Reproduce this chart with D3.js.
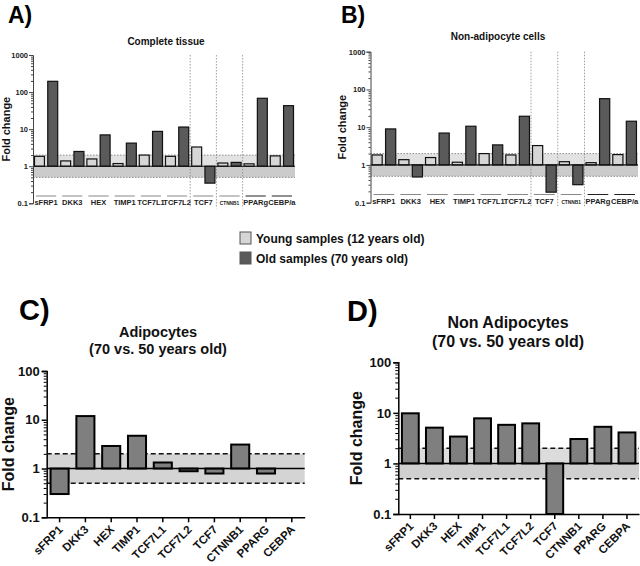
<!DOCTYPE html>
<html><head><meta charset="utf-8">
<script src="https://cdn.jsdelivr.net/npm/d3@7"></script>
<style>
body{margin:0;background:#fff;}
text{font-family:"Liberation Sans",Arial,sans-serif;font-weight:bold;}
</style></head>
<body><svg id="c" width="640" height="566"></svg>
<script>
const genesAB = ["sFRP1","DKK3","HEX","TIMP1","TCF7L1","TCF7L2","TCF7","CTNNB1","PPARg","CEBP/a"];
const youngA = [1.85,1.39,1.57,1.18,2.0,1.85,3.3,1.22,1.16,1.9];
const oldA   = [195,2.5,7.0,4.2,8.7,11.4,0.35,1.27,68,43];
const youngB = [1.84,1.38,1.57,1.18,2.0,1.84,3.26,1.22,1.15,1.88];
const oldB   = [9.0,0.48,7.0,10.6,3.4,19.5,0.19,0.30,57,14.4];
const genesCD = ["sFRP1","DKK3","HEX","TIMP1","TCF7L1","TCF7L2","TCF7","CTNNB1","PPARG","CEBPA"];
const adipoC    = [0.30,11.9,2.9,4.7,1.33,0.88,0.79,3.1,0.79,1];
const nonAdipoD = [9.8,5.1,3.4,7.8,5.8,6.2,0.1,3.04,5.3,4.1];
const yTicksAB = [0.1,1,10,100,1000];
const yTicksCD = [0.1,1,10,100];
const legendLabels = ["Young samples (12 years old)","Old samples (70 years old)"];

const svg = d3.select("#c");
const fmt = d => d >= 1 ? String(d) : "0.1";

function minorTicks(lo, hi){
  const out=[];
  for(let e=Math.log10(lo); e<Math.log10(hi); e++){
    for(let k=2;k<=9;k++) out.push(k*Math.pow(10,e));
  }
  return out;
}

// ---------- Panels A & B ----------
function panelAB(o){
  const g = svg.append("g");
  const x = d3.scaleBand().domain(genesAB).range(o.xr).paddingInner(0).paddingOuter(0);
  const y = d3.scaleLog().domain([0.1,1000]).range(o.yr);
  const sub = d3.scaleBand().domain(["y","o"]).range([x.bandwidth()*0.057, x.bandwidth()*0.943]).paddingInner(0.25);
  const [x0,x1] = o.xr;
  g.append("rect").attr("x",x0).attr("width",x1-x0).attr("y",y(2)).attr("height",y(1)-y(2)).attr("fill","#e2e2e2");
  g.append("rect").attr("x",x0).attr("width",x1-x0).attr("y",y(1)).attr("height",y(0.5)-y(1)).attr("fill","#cbcbcb");
  [2,0.5].forEach(v=>g.append("line").attr("x1",x0).attr("x2",x1).attr("y1",y(v)).attr("y2",y(v))
     .attr("stroke","#777").attr("stroke-width",0.8).attr("stroke-dasharray","1.5,1.5"));
  [6,7,8].forEach(i=>g.append("line").attr("x1",x0+i*x.step()).attr("x2",x0+i*x.step())
     .attr("y1",y(1000)).attr("y2",o.yr[0]+5).attr("stroke","#888").attr("stroke-width",0.8).attr("stroke-dasharray","1.5,1.5"));
  const rows = genesAB.map((gname,i)=>({g:gname, y:o.young[i], o:o.old[i]}));
  rows.forEach(r=>{
    [["y",r.y,"#d6d6d6"],["o",r.o,"#5a5a5a"]].forEach(([k,v,c])=>{
      g.append("rect").attr("x",x(r.g)+sub(k)).attr("width",sub.bandwidth())
       .attr("y",Math.min(y(v),y(1))).attr("height",Math.abs(y(v)-y(1)))
       .attr("fill",c).attr("stroke","#111").attr("stroke-width",1.2);
    });
  });
  g.append("line").attr("x1",x0).attr("x2",x1).attr("y1",y(1)).attr("y2",y(1)).attr("stroke","#111").attr("stroke-width",1.2);
  const ax = g.append("g").attr("transform",`translate(${x0},0)`)
    .call(d3.axisLeft(y).tickValues(yTicksAB).tickFormat(fmt).tickSize(4).tickPadding(1));
  ax.selectAll("text").attr("font-size",7.5).attr("fill","#222");
  ax.selectAll("path,line").attr("stroke","#444");
  g.append("g").attr("transform",`translate(${x0},0)`)
    .call(d3.axisLeft(y).tickValues(minorTicks(0.1,1000)).tickFormat("").tickSize(2))
    .call(s=>{s.select(".domain").remove(); s.selectAll("line").attr("stroke","#444");});
  genesAB.forEach((gname,i)=>{
    const cx = x(gname)+x.bandwidth()/2;
    g.append("line").attr("x1",x(gname)+3).attr("x2",x(gname)+x.bandwidth()-3)
      .attr("y1",o.uy).attr("y2",o.uy).attr("stroke", i>=8? "#222":"#888").attr("stroke-width",1);
    g.append("text").attr("x",cx).attr("y",o.uy+9).attr("text-anchor","middle")
      .attr("font-size", gname==="CTNNB1"?4.8:7.5).attr("fill","#222").text(gname);
  });
  g.append("text").attr("x",o.tx).attr("y",o.ty).attr("text-anchor","middle").attr("font-size",10).attr("fill","#111").text(o.title);
  g.append("text").attr("transform",`translate(${o.lx},${(o.yr[0]+o.yr[1])/2}) rotate(-90)`)
    .attr("text-anchor","middle").attr("font-size",11).attr("fill","#111").text("Fold change");
  g.append("text").attr("x",o.px).attr("y",23).attr("font-size",23).attr("fill","#000").text(o.plabel);
}

panelAB({xr:[33,295], yr:[203.3,55], young:youngA, old:oldA, uy:196, title:"Complete tissue", tx:166, ty:45, lx:10, px:8, plabel:"A)"});
panelAB({xr:[370.5,638], yr:[202.7,51.7], young:youngB, old:oldB, uy:194.5, title:"Non-adipocyte cells", tx:498, ty:40, lx:346, px:341, plabel:"B)"});

// ---------- Legend ----------
const leg = svg.append("g");
["#d6d6d6","#5a5a5a"].forEach((c,i)=>{
  leg.append("rect").attr("x",240).attr("y",232+i*20).attr("width",11).attr("height",12)
    .attr("fill",c).attr("stroke","#555").attr("stroke-width",1);
  leg.append("text").attr("x",256).attr("y",243+i*20).attr("font-size",12).attr("fill","#111").text(legendLabels[i]);
});

// ---------- Panels C & D ----------
function panelCD(o){
  const g = svg.append("g");
  const x = d3.scaleBand().domain(genesCD).range(o.xr).paddingInner(0.3).paddingOuter(0.15);
  const y = d3.scaleLog().domain([0.1,100]).range(o.yr);
  const [x0,x1] = o.xr;
  g.append("rect").attr("x",x0).attr("width",x1-x0).attr("y",y(2)).attr("height",y(1)-y(2)).attr("fill",o.c1);
  g.append("rect").attr("x",x0).attr("width",x1-x0).attr("y",y(1)).attr("height",y(0.5)-y(1)).attr("fill",o.c2);
  [2,0.5].forEach(v=>g.append("line").attr("x1",x0).attr("x2",x1).attr("y1",y(v)).attr("y2",y(v))
     .attr("stroke","#111").attr("stroke-width",1.5).attr("stroke-dasharray","5,3"));
  genesCD.forEach((gname,i)=>{
    const v=o.vals[i];
    if(v===1) return;
    g.append("rect").attr("x",x(gname)).attr("width",x.bandwidth())
      .attr("y",Math.min(y(v),y(1))).attr("height",Math.abs(y(v)-y(1)))
      .attr("fill","#7f7f7f").attr("stroke","#000").attr("stroke-width",2);
  });
  g.append("line").attr("x1",x0).attr("x2",x1).attr("y1",y(1)).attr("y2",y(1)).attr("stroke","#000").attr("stroke-width",1.5);
  const ay = g.append("g").attr("transform",`translate(${x0},0)`)
    .call(d3.axisLeft(y).tickValues(yTicksCD).tickFormat(fmt).tickSize(5).tickPadding(2));
  ay.selectAll("text").attr("font-size",13).attr("fill","#111");
  ay.selectAll("path,line").attr("stroke","#000").attr("stroke-width",1.5);
  g.append("g").attr("transform",`translate(${x0},0)`)
    .call(d3.axisLeft(y).tickValues(minorTicks(0.1,100)).tickFormat("").tickSize(3))
    .call(s=>{s.select(".domain").remove(); s.selectAll("line").attr("stroke","#000");});
  const axb = g.append("g").attr("transform",`translate(0,${o.yr[0]})`)
    .call(d3.axisBottom(x).tickSize(5).tickSizeOuter(0));
  axb.selectAll("path,line").attr("stroke","#000").attr("stroke-width",1.5);
  axb.selectAll("text").attr("font-size",11.5).attr("fill","#111").attr("text-anchor","end")
    .attr("x",0).attr("y",0).attr("dy","0.35em")
    .attr("transform","translate(1,10) rotate(-45)");
  g.append("text").attr("transform",`translate(${o.lx},${(o.yr[0]+o.yr[1])/2}) rotate(-90)`)
    .attr("text-anchor","middle").attr("font-size",16).attr("fill","#111").text("Fold change");
  o.title.forEach((t,i)=>g.append("text").attr("x",o.tx).attr("y",o.ty+i*o.ts).attr("text-anchor","middle")
    .attr("font-size",o.tf).attr("fill","#111").text(t));
  g.append("text").attr("x",o.px).attr("y",o.py).attr("font-size",29).attr("fill","#000").text(o.plabel);
}

panelCD({xr:[46.7,304.7], yr:[517.3,371], vals:adipoC, c1:"#d4d4d4", c2:"#d4d4d4",
  title:["Adipocytes","(70 vs. 50 years old)"], tx:158, ty:337, ts:16.5, tf:14.5, lx:14, px:19, py:320, plabel:"C)"});
panelCD({xr:[398.3,639], yr:[514,362.3], vals:nonAdipoD, c1:"#dcdcdc", c2:"#d0d0d0",
  title:["Non Adipocytes","(70 vs. 50 years old)"], tx:508, ty:328, ts:19, tf:16, lx:362, px:347, py:321, plabel:"D)"});
</script></body></html>
